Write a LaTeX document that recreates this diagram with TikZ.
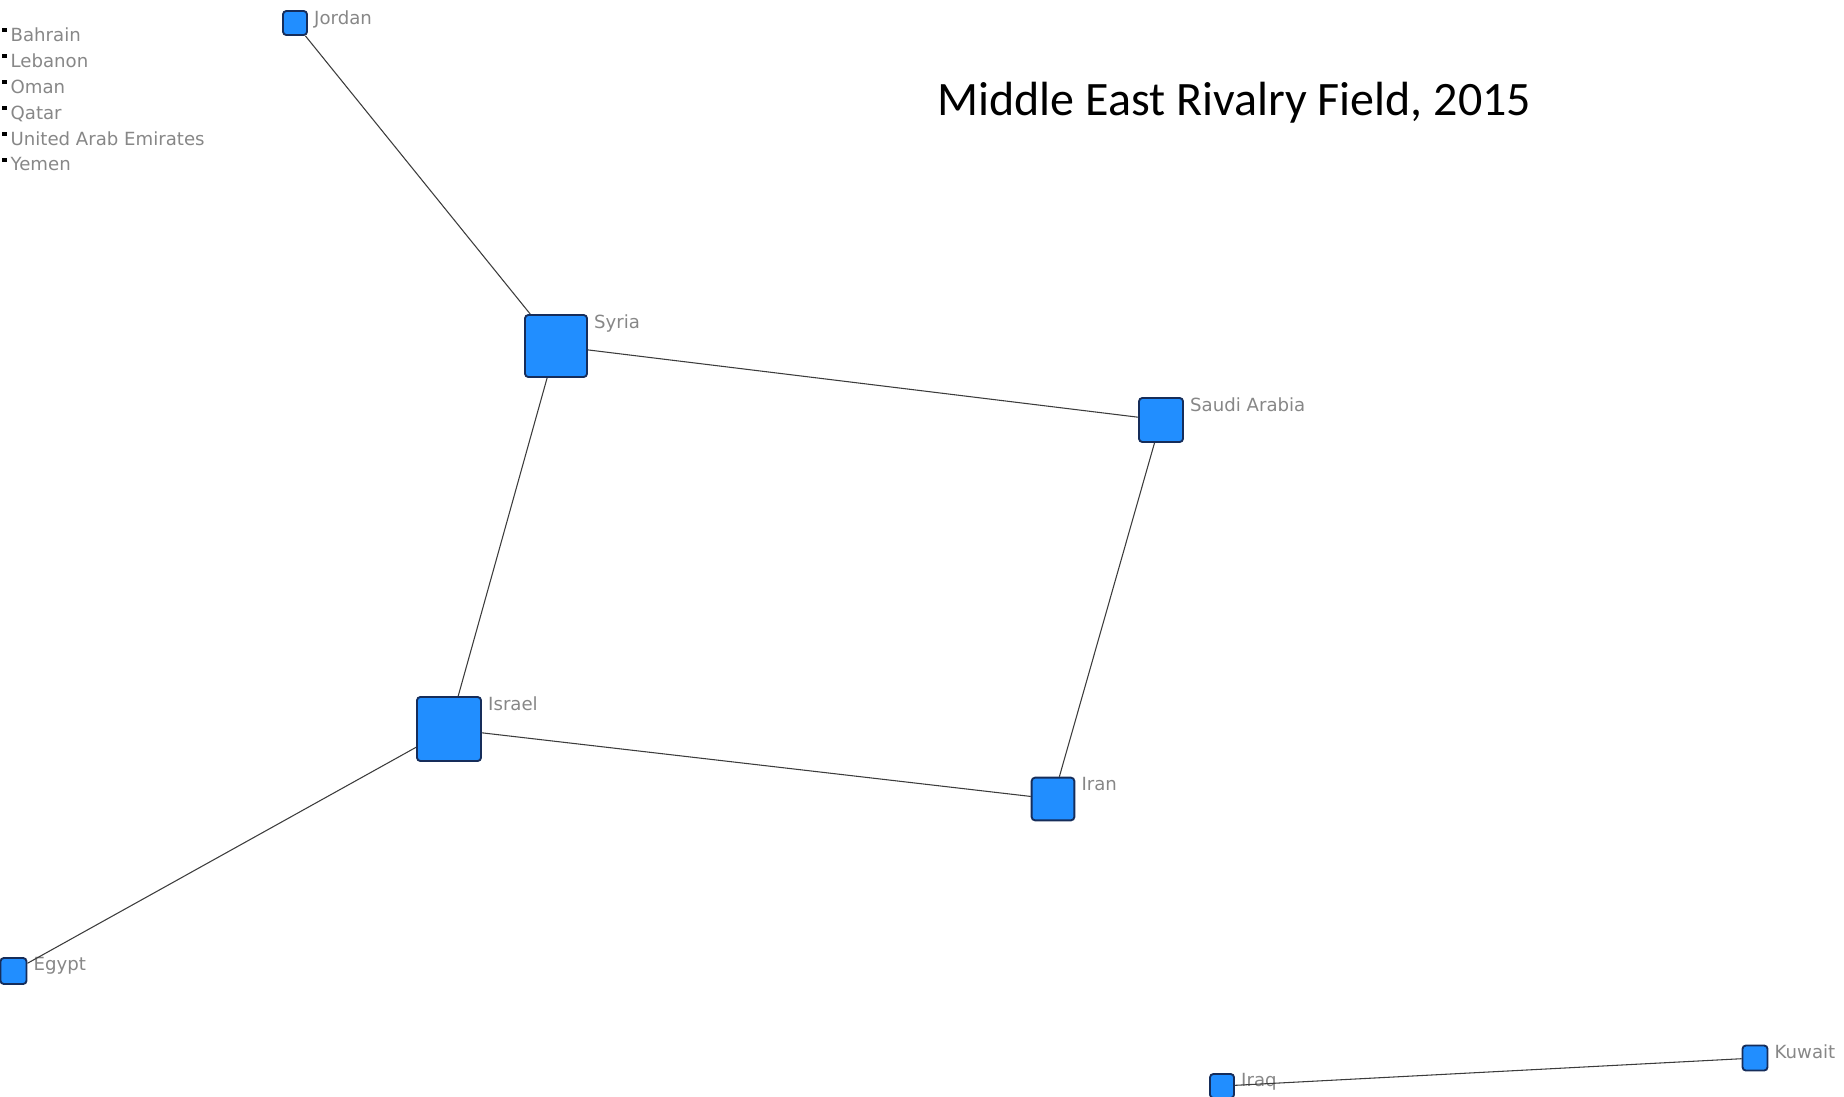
\documentclass[tikz,border=0pt]{standalone}
\usepackage{fontspec}
\setmainfont{DejaVu Sans}
\newfontfamily\titlefont{Carlito}

\definecolor{actorblue}{RGB}{33,142,255}
\definecolor{actoredge}{RGB}{22,45,90}
\definecolor{tiegray}{RGB}{60,60,60}
\definecolor{namegray}{RGB}{135,135,135}

\tikzset{
  actor/.style={rectangle, rounded corners=2.5pt, fill=actorblue, draw=actoredge, line width=1.4pt, inner sep=0pt},
  isolate/.style={rectangle, fill=black, inner sep=0pt, minimum size=3.4pt},
  cname/.style={anchor=north west, inner sep=0pt, xshift=4.5pt, text=namegray, font=\fontsize{13.6}{15}\selectfont},
  tie/.style={draw=tiegray, line width=0.8pt}
}

\begin{document}
\begin{tikzpicture}[x=0.75pt,y=0.75pt,yscale=-1,xscale=1]
\useasboundingbox (0,0) rectangle (1844,1096);

% isolates
\node [isolate, label={[cname, xshift=-2pt]north east:Bahrain}] (bahrain) at (4.5,30) {};
\node [isolate, label={[cname, xshift=-2pt]north east:Lebanon}] (lebanon) at (4.5,56) {};
\node [isolate, label={[cname, xshift=-2pt]north east:Oman}] (oman) at (4.5,82) {};
\node [isolate, label={[cname, xshift=-2pt]north east:Qatar}] (qatar) at (4.5,108) {};
\node [isolate, label={[cname, xshift=-2pt]north east:United Arab Emirates}] (uae) at (4.5,134) {};
\node [isolate, label={[cname, xshift=-2pt]north east:Yemen}] (yemen) at (4.5,160) {};

% actors
\node [actor, minimum size=18pt, label={[cname]north east:Jordan}] (jordan) at (295,23) {};
\node [actor, minimum size=46.5pt, label={[cname]north east:Syria}] (syria) at (556,346) {};
\node [actor, minimum size=33pt, label={[cname]north east:Saudi Arabia}] (saudi) at (1161,420) {};
\node [actor, minimum size=48pt, label={[cname]north east:Israel}] (israel) at (449,729) {};
\node [actor, minimum size=32pt, label={[cname]north east:Iran}] (iran) at (1053,799) {};
\node [actor, minimum size=19.5pt, label={[cname]north east:Egypt}] (egypt) at (13.5,971) {};
\node [actor, minimum size=18pt, label={[cname]north east:Iraq}] (iraq) at (1222,1086) {};
\node [actor, minimum size=18.75pt, label={[cname]north east:Kuwait}] (kuwait) at (1755,1058) {};

% rivalries
\draw [tie] (jordan) -- (syria);
\draw [tie] (syria) -- (saudi);
\draw [tie] (syria) -- (israel);
\draw [tie] (saudi) -- (iran);
\draw [tie] (israel) -- (iran);
\draw [tie] (israel) -- (egypt);
\draw [tie] (iraq) -- (kuwait);

% Text Node
\node (title) [anchor=base west, inner sep=0pt, font=\titlefont\fontsize{36}{40}\selectfont] at (937,115) {Middle East Rivalry Field, 2015};

\end{tikzpicture}
\end{document}
